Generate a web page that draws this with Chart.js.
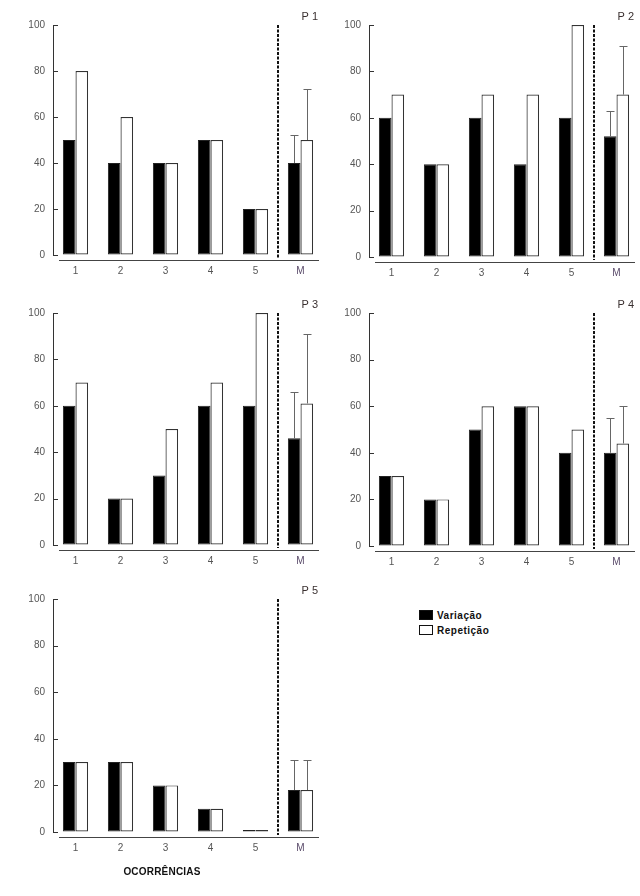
<!DOCTYPE html>
<html lang="pt">
<head>
    <meta charset="UTF-8">
    <title>Variação e Repetição por ocorrência</title>
    <script src="https://cdn.jsdelivr.net/npm/chart.js"></script>
    <style>
        html, body { margin: 0; padding: 0; background: #fff; }
        body { width: 640px; height: 896px; position: relative; overflow: hidden; font-family: "Liberation Sans", Arial, sans-serif; }
        .panel { position: absolute; }
        .xtitle { position: absolute; left: 102px; top: 866px; width: 120px; text-align: center; font-weight: bold; font-size: 10px; letter-spacing: 0.2px; color: #111; }
        .legend { position: absolute; left: 419px; top: 609px; font-size: 10px; font-weight: bold; color: #111; letter-spacing: 0.5px; }
        .legend div { height: 15px; line-height: 13px; white-space: nowrap; }
        .legend span { display: inline-block; width: 12px; height: 8px; border: 1px solid #111; vertical-align: middle; margin-right: 4px; margin-top: -2px; }
    </style>
</head>
<body>
    <div class="panel" style="left:0;top:0"><canvas id="p1" width="330" height="290"></canvas></div>
    <div class="panel" style="left:316px;top:0"><canvas id="p2" width="324" height="290"></canvas></div>
    <div class="panel" style="left:0;top:290px"><canvas id="p3" width="330" height="290"></canvas></div>
    <div class="panel" style="left:316px;top:290px"><canvas id="p4" width="324" height="290"></canvas></div>
    <div class="panel" style="left:0;top:580px"><canvas id="p5" width="330" height="300"></canvas></div>
    <div class="xtitle">OCORRÊNCIAS</div>
    <div class="legend">
        <div><span style="background:#000"></span>Variação</div>
        <div><span style="background:#fff"></span>Repetição</div>
    </div>

    <script>
        // data
        const categories = ["1", "2", "3", "4", "5", "M"];
        const yTicks = [0, 20, 40, 60, 80, 100];

        const variacaoP1 = [50, 40, 40, 50, 20, 40];
        const repeticaoP1 = [80, 60, 40, 50, 20, 50];
        const errVarP1 = [null, null, null, null, null, 52];
        const errRepP1 = [null, null, null, null, null, 72];

        const variacaoP2 = [60, 40, 60, 40, 60, 52];
        const repeticaoP2 = [70, 40, 70, 70, 100, 70];
        const errVarP2 = [null, null, null, null, null, 63];
        const errRepP2 = [null, null, null, null, null, 91];

        const variacaoP3 = [60, 20, 30, 60, 60, 46];
        const repeticaoP3 = [70, 20, 50, 70, 100, 61];
        const errVarP3 = [null, null, null, null, null, 66];
        const errRepP3 = [null, null, null, null, null, 91];

        const variacaoP4 = [30, 20, 50, 60, 40, 40];
        const repeticaoP4 = [30, 20, 60, 60, 50, 44];
        const errVarP4 = [null, null, null, null, null, 55];
        const errRepP4 = [null, null, null, null, null, 60];

        const variacaoP5 = [30, 30, 20, 10, 0, 18];
        const repeticaoP5 = [30, 30, 20, 10, 0, 18];
        const errVarP5 = [null, null, null, null, null, 31];
        const errRepP5 = [null, null, null, null, null, 31];

        // panel layout: padding top/right and x axis height
        const panels = [
            { id: "p1", name: "P 1", v: variacaoP1, r: repeticaoP1, ev: errVarP1, er: errRepP1, top: 25, right: 7, xh: 35 },
            { id: "p2", name: "P 2", v: variacaoP2, r: repeticaoP2, ev: errVarP2, er: errRepP2, top: 25, right: 1, xh: 33 },
            { id: "p3", name: "P 3", v: variacaoP3, r: repeticaoP3, ev: errVarP3, er: errRepP3, top: 23, right: 7, xh: 35 },
            { id: "p4", name: "P 4", v: variacaoP4, r: repeticaoP4, ev: errVarP4, er: errRepP4, top: 23, right: 1, xh: 34 },
            { id: "p5", name: "P 5", v: variacaoP5, r: repeticaoP5, ev: errVarP5, er: errRepP5, top: 19, right: 7, xh: 48 }
        ];

        const decor = {
            id: "decor",
            afterDatasetsDraw(chart, args, opts) {
                const ctx = chart.ctx;
                const a = chart.chartArea;
                const x = chart.scales.x, y = chart.scales.y;
                ctx.save();

                // inward ticks on y axis
                ctx.strokeStyle = "#333";
                ctx.lineWidth = 1;
                yTicks.forEach(t => {
                    const py = Math.round(y.getPixelForValue(t)) + 0.5;
                    ctx.beginPath();
                    ctx.moveTo(a.left, py);
                    ctx.lineTo(a.left + 5, py);
                    ctx.stroke();
                });

                // detached x axis line
                ctx.strokeStyle = "#444";
                ctx.beginPath();
                ctx.moveTo(a.left + 6, a.bottom + 5.5);
                ctx.lineTo(a.right - 4, a.bottom + 5.5);
                ctx.stroke();

                // dashed separator before M
                const sx = (x.getPixelForValue(4) + x.getPixelForValue(5)) / 2;
                ctx.strokeStyle = "#111";
                ctx.lineWidth = 2;
                ctx.setLineDash([3, 1.5]);
                ctx.beginPath();
                ctx.moveTo(sx, a.top);
                ctx.lineTo(sx, a.bottom + 3);
                ctx.stroke();
                ctx.setLineDash([]);

                // error bars (upper only)
                ctx.strokeStyle = "#666";
                ctx.lineWidth = 1;
                chart.data.datasets.forEach((ds, di) => {
                    const meta = chart.getDatasetMeta(di);
                    ds.err.forEach((e, i) => {
                        if (e == null) return;
                        const bar = meta.data[i];
                        const bx = Math.round(bar.x) + 0.5;
                        const ey = Math.round(y.getPixelForValue(e)) + 0.5;
                        ctx.beginPath();
                        ctx.moveTo(bx, bar.y);
                        ctx.lineTo(bx, ey);
                        ctx.moveTo(bx - 4, ey);
                        ctx.lineTo(bx + 4, ey);
                        ctx.stroke();
                    });
                });

                // panel name
                ctx.fillStyle = "#3a3030";
                ctx.font = "11px 'Liberation Sans', Arial, sans-serif";
                ctx.textAlign = "right";
                ctx.textBaseline = "middle";
                ctx.fillText(opts.name, a.right - 5, a.top - 8);
                ctx.restore();
            }
        };

        panels.forEach(p => {
            new Chart(document.getElementById(p.id), {
                type: "bar",
                data: {
                    labels: categories,
                    datasets: [
                        { label: "Variação", data: p.v, err: p.ev, backgroundColor: "#000", borderColor: "#222", borderWidth: 1, borderSkipped: false, minBarLength: 2 },
                        { label: "Repetição", data: p.r, err: p.er, backgroundColor: "#fff", borderColor: "#333", borderWidth: 1.2, borderSkipped: false, minBarLength: 2 }
                    ]
                },
                options: {
                    responsive: false,
                    animation: false,
                    layout: { padding: { top: p.top, right: p.right, left: 0, bottom: 0 } },
                    datasets: { bar: { categoryPercentage: 0.56, barPercentage: 1 } },
                    plugins: { legend: { display: false }, tooltip: { enabled: false }, decor: { name: p.name } },
                    scales: {
                        x: {
                            grid: { display: false, drawTicks: false },
                            border: { display: false },
                            ticks: {
                                padding: 10,
                                color: ctx => ctx.index === 5 ? "#5a4a6a" : "#555",
                                font: { size: 10, family: "'Liberation Sans', Arial, sans-serif" }
                            },
                            afterFit: s => { s.height = p.xh; }
                        },
                        y: {
                            min: 0, max: 100,
                            afterBuildTicks: s => { s.ticks = yTicks.map(v => ({ value: v })); },
                            grid: { drawOnChartArea: false, drawTicks: false },
                            border: { display: true, color: "#333", width: 1 },
                            ticks: {
                                padding: 8,
                                color: "#555",
                                font: { size: 10, family: "'Liberation Sans', Arial, sans-serif" }
                            },
                            afterFit: s => { s.width = 53; }
                        }
                    }
                },
                plugins: [decor]
            });
        });
    </script>
</body>
</html>
